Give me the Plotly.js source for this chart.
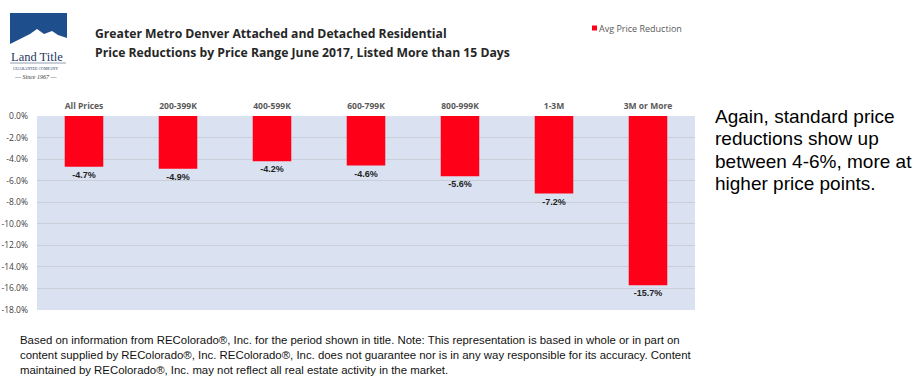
<!DOCTYPE html>
<html><head><meta charset="utf-8">
<script src="https://cdn.plot.ly/plotly-3.0.1.min.js"></script>
<style>html,body{margin:0;padding:0;background:#fff}#chart{width:920px;height:384px}</style>
</head><body><div id="chart"></div>
<script>
const categories = ["All Prices","200-399K","400-599K","600-799K","800-999K","1-3M","3M or More"];
const avgPriceReduction = [-4.7,-4.9,-4.2,-4.6,-5.6,-7.2,-15.7];
const yTicks = [0,-2,-4,-6,-8,-10,-12,-14,-16,-18];
const yTickLabels = yTicks.map(v => v.toFixed(1) + "%");
const barLabels = avgPriceReduction.map(v => v.toFixed(1) + "%");
const seriesName = "Avg Price Reduction";
const noteLines = [
  "Again, standard price",
  "reductions show up",
  "between 4-6%, more at",
  "higher price points."
];

const fontMain = "Liberation Sans, Arial, sans-serif";
const barColor = "#ff0019";
const trace = {
  type: "bar",
  x: categories,
  y: avgPriceReduction,
  name: seriesName,
  marker: {color: barColor},
  width: 0.41,
  text: barLabels,
  textposition: "outside",
  cliponaxis: false,
  textfont: {family: fontMain, size: 9, color: "#222", weight: "bold"},
  hoverinfo: "skip",
  showlegend: false
};

const W = 920, H = 384, mL = 37, mR = 225, mT = 116, mB = 74;
const pw = W - mL - mR, ph = H - mT - mB;
const px = x => (x - mL) / pw;
const py = y => (H - mB - y) / ph;

const annotations = [
  {xref: "paper", yref: "paper", x: px(93), y: py(34), xanchor: "left", yanchor: "middle", showarrow: false, align: "left",
    text: "<b>Greater Metro Denver Attached and Detached Residential</b>", font: {family: "Open Sans, Liberation Sans, sans-serif", size: 12.2, color: "#262626"}},
  {xref: "paper", yref: "paper", x: px(93), y: py(52), xanchor: "left", yanchor: "middle", showarrow: false, align: "left",
    text: "<b>Price Reductions by Price Range June 2017, Listed More than 15 Days</b>", font: {family: "Open Sans, Liberation Sans, sans-serif", size: 12.2, color: "#262626"}},
  {xref: "paper", yref: "paper", x: px(597), y: py(28), xanchor: "left", yanchor: "middle", showarrow: false, align: "left",
    text: seriesName, font: {family: "Open Sans, Liberation Sans, sans-serif", size: 9, color: "#595959"}},
  {xref: "paper", yref: "paper", x: px(18), y: py(332), xanchor: "left", yanchor: "top", showarrow: false, align: "left",
    text: "Based on information from REColorado®, Inc. for the period shown in title. Note: This representation is based in whole or in part on<br>content supplied by REColorado®, Inc. REColorado®, Inc. does not guarantee nor is in any way responsible for its accuracy. Content<br>maintained by REColorado®, Inc. may not reflect all real estate activity in the market.",
    font: {family: "Liberation Sans, sans-serif", size: 11.4, color: "#111"}},
  {xref: "paper", yref: "paper", x: px(9), y: py(57), xanchor: "left", yanchor: "middle", showarrow: false,
    text: "Land Title", font: {family: "Liberation Serif, serif", size: 12.5, color: "#1f3864"}},
  {xref: "paper", yref: "paper", x: px(11), y: py(68), xanchor: "left", yanchor: "middle", showarrow: false,
    text: "GUARANTEE COMPANY", font: {family: "Liberation Serif, serif", size: 4, color: "#1f3864"}},
  {xref: "paper", yref: "paper", x: px(12), y: py(77), xanchor: "left", yanchor: "middle", showarrow: false,
    text: "— <i>Since 1967</i> —", font: {family: "Liberation Serif, serif", size: 6, color: "#333"}}
];
const noteY = [116, 138.5, 161, 183.5];
noteLines.forEach((t, i) => annotations.push({
  xref: "paper", yref: "paper", x: px(713), y: py(noteY[i]), xanchor: "left", yanchor: "middle", showarrow: false, align: "left",
  text: t, font: {family: "Liberation Sans, Arial, sans-serif", size: 19, color: "#000"}
}));

const layout = {
  width: W, height: H,
  margin: {l: mL, r: mR, t: mT, b: mB},
  paper_bgcolor: "#ffffff",
  plot_bgcolor: "#dae2f2",
  showlegend: false,
  xaxis: {side: "top", showgrid: false, zeroline: false, showline: false, ticks: "",
    tickfont: {family: "Open Sans, Liberation Sans, sans-serif", size: 8.5, color: "#595959", weight: "bold"},
    ticklabelstandoff: 4, automargin: false},
  yaxis: {range: [-18, 0], tickvals: yTicks, ticktext: yTickLabels, showgrid: true,
    gridcolor: "#c9ced8", gridwidth: 1, zeroline: false, showline: false, ticks: "",
    tickfont: {family: "Open Sans, Liberation Sans, sans-serif", size: 8.5, color: "#404040"},
    ticklabelstandoff: 8, automargin: false},
  annotations: annotations,
  shapes: [
    {type: "rect", xref: "paper", yref: "paper", x0: px(592), x1: px(597), y0: py(30.5), y1: py(25.5), fillcolor: barColor, line: {width: 0}},
    {type: "rect", xref: "paper", yref: "paper", x0: px(10), x1: px(67), y0: py(47), y1: py(13), fillcolor: "#1f4e8c", line: {width: 0}, layer: "above"},
    {type: "path", xref: "paper", yref: "paper", layer: "above", fillcolor: "#ffffff", line: {width: 0},
      path: `M ${px(10)} ${py(44)} L ${px(22)} ${py(38)} L ${px(30)} ${py(34)} L ${px(37)} ${py(29)} L ${px(44)} ${py(34)} L ${px(52)} ${py(31)} L ${px(58)} ${py(35)} L ${px(67)} ${py(38)} L ${px(67)} ${py(47)} L ${px(10)} ${py(47)} Z`},
    {type: "line", xref: "paper", yref: "paper", x0: px(10), x1: px(66), y0: py(63), y1: py(63), line: {color: "#1f3864", width: 0.5}}
  ]
};

Plotly.newPlot("chart", [trace], layout, {displayModeBar: false, staticPlot: true});
</script></body></html>
